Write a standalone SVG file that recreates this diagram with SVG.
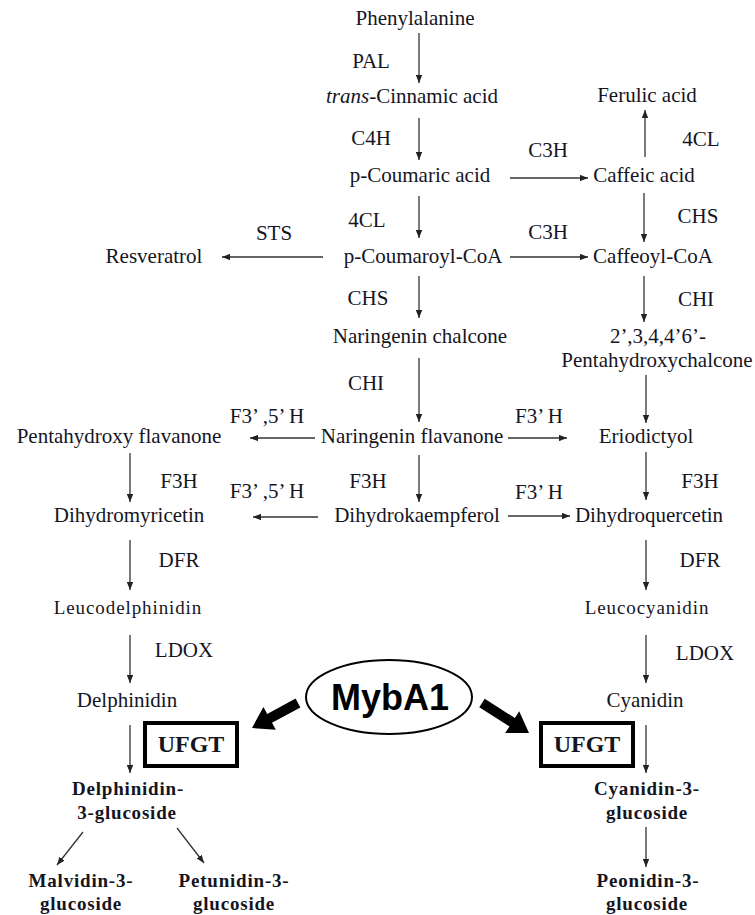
<svg xmlns="http://www.w3.org/2000/svg" width="755" height="915" viewBox="0 0 755 915">
<style>
text{font-family:"Liberation Serif","Times New Roman",serif;font-size:21px;fill:#15151f;text-anchor:middle}
.b{font-weight:bold;font-size:19px;letter-spacing:0.8px}
.s{font-size:19px;letter-spacing:0.9px}
.u{font-weight:bold;font-size:24px}
.m{font-family:"Liberation Sans",Arial,sans-serif;font-weight:bold;font-size:36px;fill:#000}
.c line{stroke:#333;stroke-width:1.3;marker-end:url(#ah)}
.box{fill:none;stroke:#000;stroke-width:4}
</style>
<defs>
<marker id="ah" viewBox="0 0 10 8" refX="10" refY="4" markerWidth="8" markerHeight="6.4" markerUnits="userSpaceOnUse" orient="auto">
<path d="M0,0 L10,4 L0,8 Z" fill="#222"/>
</marker>
</defs>
<rect width="755" height="915" fill="#fff"/>
<g id="connectors" class="c">
<line x1="419" y1="33" x2="419" y2="83"/>
<line x1="419" y1="118" x2="419" y2="160"/>
<line x1="419" y1="196" x2="419" y2="238"/>
<line x1="419" y1="276" x2="419" y2="318"/>
<line x1="419" y1="358" x2="419" y2="422"/>
<line x1="419" y1="455" x2="419" y2="502"/>
<line x1="510" y1="178" x2="588" y2="178"/>
<line x1="510" y1="257" x2="588" y2="257"/>
<line x1="323" y1="257" x2="222" y2="257"/>
<line x1="645" y1="157" x2="645" y2="110"/>
<line x1="644" y1="193" x2="644" y2="242"/>
<line x1="644" y1="276" x2="644" y2="322"/>
<line x1="646" y1="375" x2="646" y2="423"/>
<line x1="646" y1="452" x2="646" y2="500"/>
<line x1="315" y1="438" x2="250" y2="438"/>
<line x1="508" y1="438" x2="567" y2="438"/>
<line x1="318" y1="517" x2="253" y2="517"/>
<line x1="508" y1="516" x2="570" y2="516"/>
<line x1="130" y1="453" x2="130" y2="502"/>
<line x1="130" y1="540" x2="130" y2="590"/>
<line x1="130" y1="635" x2="130" y2="683"/>
<line x1="130" y1="725" x2="130" y2="773"/>
<line x1="646" y1="540" x2="646" y2="590"/>
<line x1="646" y1="635" x2="646" y2="683"/>
<line x1="646" y1="725" x2="646" y2="773"/>
<line x1="646" y1="827" x2="646" y2="867"/>
<line x1="83" y1="832" x2="57" y2="865"/>
<line x1="177" y1="828" x2="204" y2="863"/>
<polygon points="295.6,698.6 267.2,714.0 263.4,707.0 252,728 275.8,729.8 272.0,722.8 300.4,707.4" fill="#000"/>
<polygon points="484.7,698.8 514.9,718.0 519.2,711.3 529,733 505.2,733.1 509.5,726.4 479.3,707.2" fill="#000"/>
</g>
<g id="phenylalanine"><text x="415" y="25">Phenylalanine</text></g>
<g id="cinnamic"><text x="412" y="103"><tspan font-style="italic">trans</tspan>-Cinnamic acid</text></g>
<g id="coumaric"><text x="420" y="182">p-Coumaric acid</text></g>
<g id="coumaroylcoa"><text x="423" y="263">p-Coumaroyl-CoA</text></g>
<g id="resveratrol"><text x="154" y="263">Resveratrol</text></g>
<g id="ferulic"><text x="647" y="102">Ferulic acid</text></g>
<g id="caffeic"><text x="644" y="182">Caffeic acid</text></g>
<g id="caffeoylcoa"><text x="653" y="263">Caffeoyl-CoA</text></g>
<g id="naringenin-chalcone"><text x="420" y="343">Naringenin chalcone</text></g>
<g id="pentahydroxychalcone"><text x="658" y="343">2’,3,4,4’6’-</text><text x="657" y="367">Pentahydroxychalcone</text></g>
<g id="naringenin-flavanone"><text x="412" y="443">Naringenin flavanone</text></g>
<g id="pentahydroxy-flavanone"><text x="119" y="443">Pentahydroxy flavanone</text></g>
<g id="eriodictyol"><text x="646" y="443">Eriodictyol</text></g>
<g id="dihydromyricetin"><text x="129" y="522">Dihydromyricetin</text></g>
<g id="dihydrokaempferol"><text x="417" y="522">Dihydrokaempferol</text></g>
<g id="dihydroquercetin"><text x="649" y="522">Dihydroquercetin</text></g>
<g id="leucodelphinidin"><text class="s" x="128" y="614">Leucodelphinidin</text></g>
<g id="leucocyanidin"><text class="s" x="647" y="614">Leucocyanidin</text></g>
<g id="delphinidin"><text x="127" y="707">Delphinidin</text></g>
<g id="cyanidin"><text x="645" y="707">Cyanidin</text></g>
<g id="delphinidin-3-glucoside"><text class="b" x="128" y="795">Delphinidin-</text><text class="b" x="127" y="819">3-glucoside</text></g>
<g id="cyanidin-3-glucoside"><text class="b" x="647" y="795">Cyanidin-3-</text><text class="b" x="647" y="819">glucoside</text></g>
<g id="malvidin-3-glucoside"><text class="b" x="81" y="887">Malvidin-3-</text><text class="b" x="81" y="910">glucoside</text></g>
<g id="petunidin-3-glucoside"><text class="b" x="234" y="887">Petunidin-3-</text><text class="b" x="234" y="910">glucoside</text></g>
<g id="peonidin-3-glucoside"><text class="b" x="648" y="887">Peonidin-3-</text><text class="b" x="647" y="910">glucoside</text></g>
<g id="myba1"><ellipse cx="389" cy="697" rx="83" ry="37" fill="#fff" stroke="#000" stroke-width="2"/><text class="m" x="390" y="710">MybA1</text></g>
<g id="ufgt-left"><rect class="box" x="145" y="723" width="92" height="43"/><text class="u" x="191" y="752">UFGT</text></g>
<g id="ufgt-right"><rect class="box" x="541" y="723" width="92" height="43"/><text class="u" x="587" y="752">UFGT</text></g>
<g id="enzyme-labels">
<text x="371" y="68">PAL</text>
<text x="371" y="145">C4H</text>
<text x="367" y="227">4CL</text>
<text x="274" y="240">STS</text>
<text x="548" y="157">C3H</text>
<text x="548" y="239">C3H</text>
<text x="701" y="146">4CL</text>
<text x="698" y="223">CHS</text>
<text x="368" y="305">CHS</text>
<text x="696" y="306">CHI</text>
<text x="366" y="390">CHI</text>
<text x="267" y="423">F3’ ,5’ H</text>
<text x="539" y="423">F3’ H</text>
<text x="179" y="488">F3H</text>
<text x="368" y="488">F3H</text>
<text x="700" y="488">F3H</text>
<text x="267" y="498">F3’ ,5’ H</text>
<text x="539" y="499">F3’ H</text>
<text x="179" y="567">DFR</text>
<text x="700" y="567">DFR</text>
<text x="184" y="657">LDOX</text>
<text x="705" y="660">LDOX</text>
</g>
</svg>
